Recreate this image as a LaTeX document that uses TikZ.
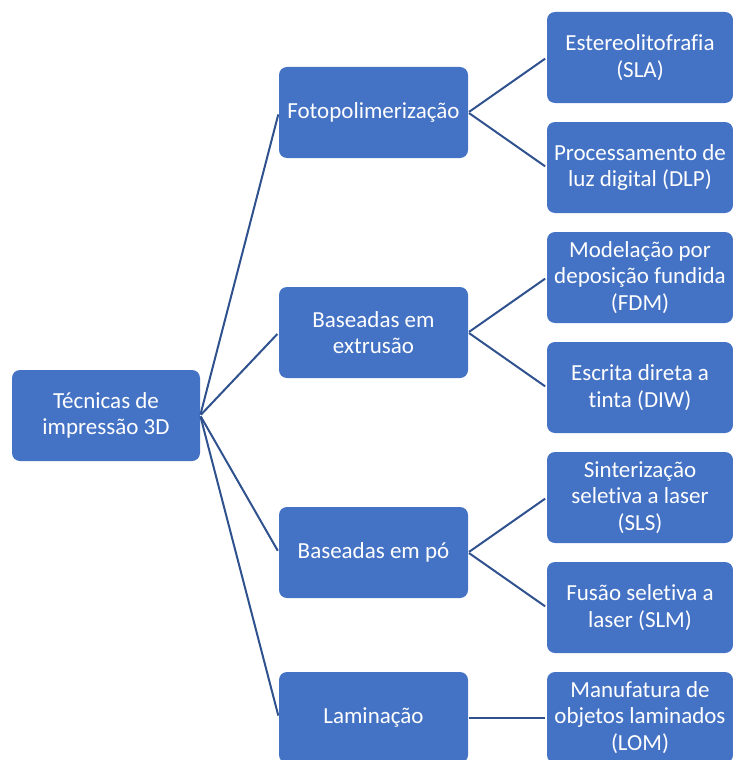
\documentclass[tikz,border=0pt]{standalone}
\usepackage{fontspec}
\setmainfont{Carlito}[Ligatures={NoCommon}]
\usepackage{tikz}
\definecolor{boxblue}{HTML}{4472C4}
\definecolor{lineblue}{HTML}{2F528F}

\begin{document}
\begin{tikzpicture}
    [
    x=1pt, y=-1pt,
    box/.style={rectangle,rounded corners=8pt,fill=boxblue,text=white,align=center,inner sep=0pt,minimum height=91pt,font=\fontsize{23}{26.5}\selectfont},
    root/.style={box,minimum width=188pt},
    method/.style={box,minimum width=189pt},
    technique/.style={box,minimum width=186pt},
    link/.style={lineblue,line width=2pt,shorten <=1pt,shorten >=2pt}
    ]
    \useasboundingbox (0,0) rectangle (733,760);
    \node (t) at (106,415.5) [root] {Técnicas de\\impressão 3D};
    \node (m1) at (373.5,112.5) [method] {Fotopolimerização};
    \node (m2) at (373.5,332.5) [method] {Baseadas em\\extrusão};
    \node (m3) at (373.5,552.5) [method] {Baseadas em pó};
    \node (m4) at (373.5,717.5) [method] {Laminação};
    \node (s1) at (640,57.5) [technique] {Estereolitofrafia\\(SLA)};
    \node (s2) at (640,167.5) [technique] {Processamento de\\luz digital (DLP)};
    \node (s3) at (640,277.5) [technique] {Modelação por\\deposição fundida\\(FDM)};
    \node (s4) at (640,387.5) [technique] {Escrita direta a\\tinta (DIW)};
    \node (s5) at (640,497.5) [technique] {Sinterização\\seletiva a laser\\(SLS)};
    \node (s6) at (640,607.5) [technique] {Fusão seletiva a\\laser (SLM)};
    \node (s7) at (640,717.5) [technique] {Manufatura de\\objetos laminados\\(LOM)};
    \draw [link] (t.east) to (m1.west);
    \draw [link] (t.east) to (m2.west);
    \draw [link] (t.east) to (m3.west);
    \draw [link] (t.east) to (m4.west);
    \draw [link] (m1.east) to (s1.west);
    \draw [link] (m1.east) to (s2.west);
    \draw [link] (m2.east) to (s3.west);
    \draw [link] (m2.east) to (s4.west);
    \draw [link] (m3.east) to (s5.west);
    \draw [link] (m3.east) to (s6.west);
    \draw [link] (m4.east) to (s7.west);
\end{tikzpicture}
\end{document}
